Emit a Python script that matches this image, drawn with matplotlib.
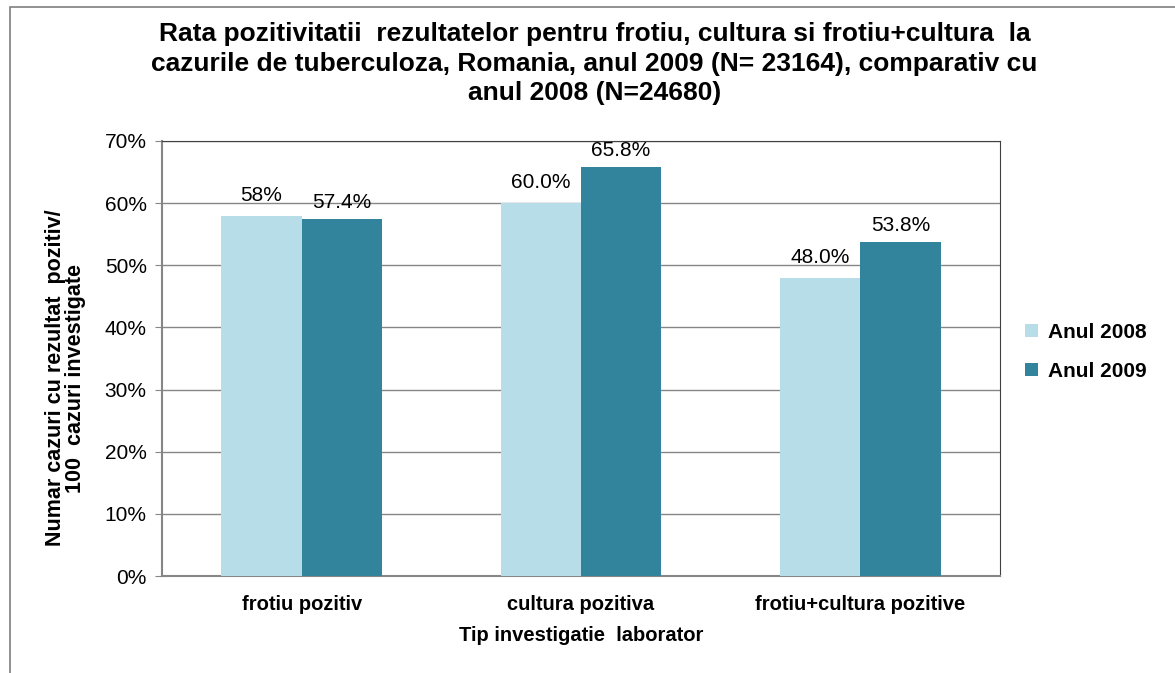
import matplotlib.pyplot as plt
from matplotlib.patches import Rectangle
import numpy as np

categories = ["frotiu pozitiv", "cultura pozitiva", "frotiu+cultura pozitive"]
values_2008 = [58.0, 60.0, 48.0]
values_2009 = [57.4, 65.8, 53.8]
labels_2008 = ["58%", "60.0%", "48.0%"]
labels_2009 = ["57.4%", "65.8%", "53.8%"]
series_names = ["Anul 2008", "Anul 2009"]
y_ticks = [0, 10, 20, 30, 40, 50, 60, 70]

COL_2008 = "#B7DDE8"
COL_2009 = "#31849B"

plt.rcParams.update({
    "font.family": ["Liberation Sans", "DejaVu Sans"],
    "font.size": 14,
})

fig = plt.figure(figsize=(11.75, 6.73), dpi=100)
W, H = 1175, 673
ax = fig.add_axes([162 / W, 1 - 576 / H, (1000 - 162) / W, (576 - 141) / H])

# outer chart frame (only top and left visible in the crop)
fig.patches.append(Rectangle((10 / W, -0.1), 1.2, 1 - 7 / H + 0.1, transform=fig.transFigure,
                             fill=False, edgecolor="#7F7F7F", linewidth=1.2))

x = np.arange(len(categories))
bw = 0.287
ax.bar(x - bw / 2, values_2008, bw, color=COL_2008, label=series_names[0], zorder=3)
ax.bar(x + bw / 2, values_2009, bw, color=COL_2009, label=series_names[1], zorder=3)

for xi, v, lab in zip(x, values_2008, labels_2008):
    ax.annotate(lab, (xi - bw / 2, v), xytext=(0, 11), textcoords="offset pixels",
                ha="center", va="bottom", fontsize=15)
for xi, v, lab in zip(x, values_2009, labels_2009):
    ax.annotate(lab, (xi + bw / 2, v), xytext=(0, 7), textcoords="offset pixels",
                ha="center", va="bottom", fontsize=15)

ax.set_xlim(-0.5, 2.5)
ax.set_ylim(0, 70)
ax.set_yticks(y_ticks)
ax.set_yticklabels([f"{t}%" for t in y_ticks], fontsize=15)
ax.set_xticks(x)
ax.set_xticklabels(categories, fontsize=14.5, fontweight="bold")
ax.tick_params(axis="x", length=0, pad=14)
ax.tick_params(axis="y", length=5, color="#868686", pad=6)
ax.grid(axis="y", color="#868686", linewidth=1, zorder=0)
ax.set_axisbelow(True)
for side in ("top", "right"):
    ax.spines[side].set_color("#404040")
for side in ("left", "bottom"):
    ax.spines[side].set_color("#868686")
    ax.spines[side].set_linewidth(1.5)

ax.set_xlabel("Tip investigatie  laborator", fontsize=14.5, fontweight="bold", labelpad=8)
ax.set_ylabel("Numar cazuri cu rezultat  pozitiv/\n100  cazuri investigate", fontsize=15.5,
              fontweight="bold", linespacing=0.95)
ax.yaxis.set_label_coords(-0.091, 0.455)

fig.text(0.506, 1 - 22 / H,
         "Rata pozitivitatii  rezultatelor pentru frotiu, cultura si frotiu+cultura  la\n"
         "cazurile de tuberculoza, Romania, anul 2009 (N= 23164), comparativ cu\n"
         "anul 2008 (N=24680)",
         ha="center", va="top", fontsize=19, fontweight="bold", linespacing=1.3)

ax.legend(loc="center left", bbox_to_anchor=(1.02, 0.515), frameon=False, borderaxespad=0,
          prop={"weight": "bold", "size": 15}, handlelength=0.6, handleheight=0.6,
          handletextpad=0.5, labelspacing=0.95)

fig.savefig("out.png", dpi=100)
